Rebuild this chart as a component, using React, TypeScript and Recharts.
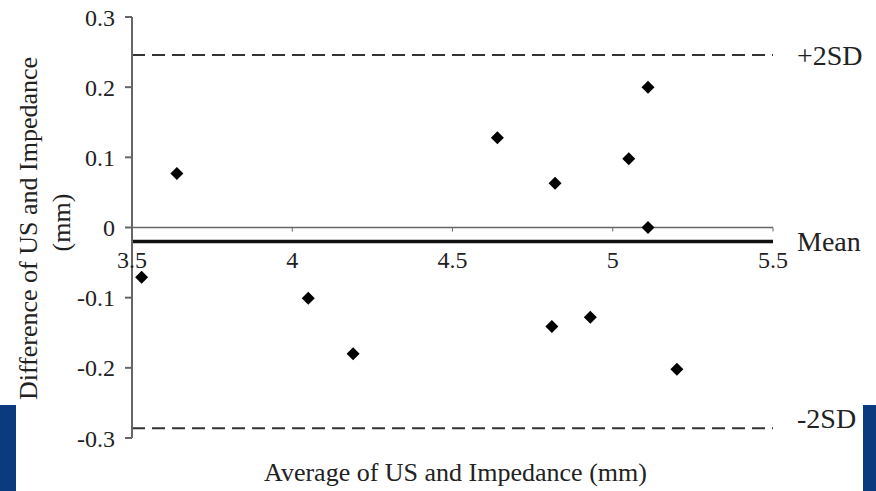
import { Label, ReferenceLine, Scatter, ScatterChart, XAxis, YAxis } from "recharts";

const FONT = "'Liberation Serif', 'Times New Roman', serif";
const INK = "#222";
const AXIS_LINE = "#666";
const BLUE = "#0b3a7e";

const X_TICKS = [3.5, 4, 4.5, 5, 5.5];
const Y_TICKS = [-0.3, -0.2, -0.1, 0, 0.1, 0.2, 0.3];

// Bland-Altman points: average vs difference (mm)
const AVERAGE = [3.53, 3.64, 4.05, 4.19, 4.64, 4.82, 4.81, 4.93, 5.05, 5.11, 5.11, 5.2];
const DIFFERENCE = [-0.071, 0.077, -0.101, -0.18, 0.128, 0.063, -0.141, -0.128, 0.098, 0.2, 0, -0.202];

const MEAN = -0.02;
const PLUS_2SD = 0.246;
const MINUS_2SD = -0.286;

const points = AVERAGE.map((avg, i) => ({ avg, diff: DIFFERENCE[i] }));

const W = 876;
const H = 491;
const MARGIN = { top: 17, right: 103, bottom: 0, left: 0 };
const Y_AXIS_W = 132;
const X_AXIS_H = 53;
const PLOT_H = H - MARGIN.top - MARGIN.bottom - X_AXIS_H;
// x axis crosses at y = 0, halfway up the domain
const ZERO_OFF = -PLOT_H * (0 - Y_TICKS[0]) / (Y_TICKS[Y_TICKS.length - 1] - Y_TICKS[0]);

function XTick({ x, y, payload }: any) {
  const zy = y + ZERO_OFF;
  return (
    <g>
      <line x1={x} x2={x} y1={zy} y2={zy + 4} stroke={AXIS_LINE} strokeWidth={1} />
      <text x={x} y={zy + 40} textAnchor="middle" fill={INK} fontFamily={FONT} fontSize={24}>
        {payload.value}
      </text>
    </g>
  );
}

function YTitle({ viewBox }: any) {
  const cy = viewBox.y + viewBox.height / 2;
  return (
    <g fill={INK} fontFamily={FONT} fontSize={26}>
      <text transform={`translate(28, ${cy + 1}) rotate(-90)`} textAnchor="middle" dominantBaseline="central">
        Difference of US and Impedance
      </text>
      <text transform={`translate(61, ${cy - 5}) rotate(-90)`} textAnchor="middle" dominantBaseline="central">
        (mm)
      </text>
    </g>
  );
}

function Diamond({ cx, cy }: any) {
  const r = 6.5;
  return <polygon points={`${cx},${cy - r} ${cx + r},${cy} ${cx},${cy + r} ${cx - r},${cy}`} fill="#000" />;
}

export default function App() {
  return (
    <div style={{ position: "absolute", left: 0, top: 0, width: W, height: H, background: "#fff" }}>
      <ScatterChart width={W} height={H} margin={MARGIN}>
        <XAxis
          type="number"
          dataKey="avg"
          domain={[3.5, 5.5]}
          ticks={X_TICKS}
          height={X_AXIS_H}
          axisLine={false}
          tickLine={false}
          tickSize={0}
          tickMargin={0}
          tick={<XTick />}
          interval={0}
        >
          <Label
            value="Average of US and Impedance (mm)"
            position="insideBottom"
            offset={10}
            dx={3}
            fill={INK}
            fontFamily={FONT}
            fontSize={26}
          />
        </XAxis>
        <YAxis
          type="number"
          dataKey="diff"
          domain={[-0.3, 0.3]}
          ticks={Y_TICKS}
          width={Y_AXIS_W}
          interval={0}
          stroke={AXIS_LINE}
          strokeWidth={2}
          tickSize={7}
          tickMargin={10}
          tick={{ fill: INK, fontFamily: FONT, fontSize: 24 }}
          label={<YTitle />}
        />
        <ReferenceLine y={0} stroke={AXIS_LINE} strokeWidth={1.5} />
        <ReferenceLine y={MEAN} stroke="#111" strokeWidth={3.5}>
          <Label value="Mean" position="right" offset={24} fill={INK} fontFamily={FONT} fontSize={28} />
        </ReferenceLine>
        <ReferenceLine y={PLUS_2SD} stroke="#333" strokeWidth={2} strokeDasharray="13 7">
          <Label value="+2SD" position="right" offset={24} fill={INK} fontFamily={FONT} fontSize={28} />
        </ReferenceLine>
        <ReferenceLine y={MINUS_2SD} stroke="#333" strokeWidth={2} strokeDasharray="13 7">
          <Label value="-2SD" position="right" offset={24} dy={-10} fill={INK} fontFamily={FONT} fontSize={28} />
        </ReferenceLine>
        <Scatter data={points} shape={<Diamond />} isAnimationActive={false} />
      </ScatterChart>
      <div style={{ position: "absolute", left: 0, top: 405, width: 16, height: H - 405, background: BLUE }} />
      <div style={{ position: "absolute", left: 863, top: 405, width: W - 863, height: H - 405, background: BLUE }} />
    </div>
  );
}
